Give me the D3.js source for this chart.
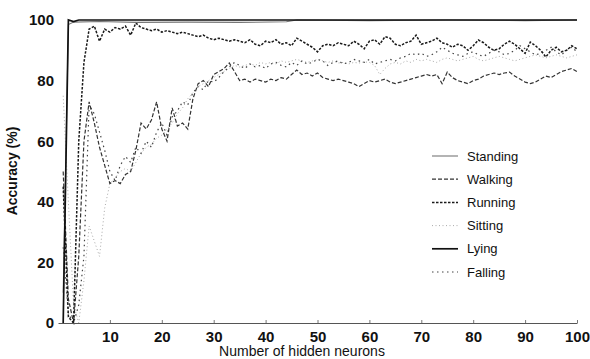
<!DOCTYPE html>
<html>
<head>
<meta charset="utf-8">
<script src="https://cdn.jsdelivr.net/npm/d3@7"></script>
<style>
  body { margin: 0; background: #fff; }
  text { font-family: "Liberation Sans", Arial, sans-serif; fill: #111; }
</style>
</head>
<body>
<svg width="590" height="359"></svg>
<script>
// values (accuracy %, one per hidden neuron count unless an x list is given)
const standingX = [1, 2, 3, 8, 15, 25, 35, 44, 46, 60, 75, 90, 100];
const standing = [10, 98.5, 99.3, 99.5, 99.2, 99.3, 99.2, 99.4, 100, 99.8, 100, 99.8, 100];

const lyingX = [1, 2, 3, 4, 5, 100];
const lying = [0, 100, 99.5, 100, 100, 100];

const walking = [
  50, 8, 0, 22, 60, 73, 66, 58, 52, 46,
  47, 46, 49, 50, 57, 66, 64, 67, 73, 64,
  60, 71, 65, 66, 64, 74, 79, 80, 78, 82,
  83, 84, 85.8, 83, 80, 80.5, 79.5, 80.5, 80, 79.5,
  80.5, 80, 81, 80.5, 82, 83.5, 82, 82.5, 81.5, 82.5,
  81, 80.5, 80, 80.5, 80, 79.5, 79, 78, 79, 80,
  79.5, 80, 80.5, 79.5, 79, 79.5, 80, 80.5, 81, 81.5,
  82, 81.5, 82, 79, 82.8, 81, 80, 79.5, 79, 80,
  80.5, 81.5, 82, 82.5, 82, 82.5, 82.8, 81.5, 80.5, 79.5,
  79, 79.5, 80.5, 81.5, 81, 82, 83, 83.5, 84, 83
];

const running = [
  45, 2, 0, 60, 86, 97, 98, 93, 97, 96,
  97.5, 97, 98, 95, 99, 97.5, 97, 96.5, 97, 96,
  96.5, 96, 95.5, 96, 95.5, 95, 94.5, 95, 94, 93.5,
  94, 93.5, 93, 93.5, 93, 92.5, 93.5, 92, 91.5, 93,
  92.5, 93.5, 92, 92.5, 91.5, 94, 93, 92, 91, 89.5,
  91.5, 92, 91.5, 92.5, 92, 91.5, 93, 92, 90.5, 93,
  93.5, 92, 94.5, 94, 92, 91.5, 92.5, 93, 95, 92,
  92.5, 93, 94, 92.5, 92, 91, 92, 91.5, 90, 91.5,
  93.4, 92.5, 91, 90, 90.5, 92, 93, 92, 90.5, 89,
  92.7, 91.5, 90, 87.8, 90, 91, 89.5, 90, 91.5, 90.5
];

const sitting = [
  75, 40, 6, 0, 14, 32, 27, 22, 38, 46,
  48, 50, 51, 50, 53, 56, 58, 59, 61, 62,
  64, 66, 69, 71, 74, 76, 78, 79, 80, 81,
  82, 83, 84, 85, 84.5, 85, 85.5, 85, 86, 85.5,
  86, 85.5, 86.5, 86, 86.5, 87, 86.5, 86, 86.5, 87,
  86.5, 86, 86.5, 85.8, 86, 85.5, 86, 85.8, 86.2, 86,
  85, 82, 84, 85.5, 86, 85.5, 86.5, 86, 87, 86.5,
  87, 86.5, 86, 87, 87.5, 87, 86.5, 87, 87.5, 88,
  87, 86.5, 87, 87.5, 88, 87.5, 87, 86.5, 87, 87.5,
  88, 88.5, 88, 87.5, 88, 88.5, 88, 87.5, 88, 88.5
];

const falling = [
  25, 3, 0, 6, 22, 72, 69, 63, 57, 50,
  47, 52, 55, 53, 58, 56, 60, 58, 63, 66,
  62, 68, 70, 73, 72, 76, 78, 77, 80, 79.5,
  81, 83, 84.5, 86, 85, 84, 85.5, 84.5, 85, 84,
  85.5, 86, 85, 84.5, 86, 85, 86.5, 85.5, 86, 87,
  86.5, 85, 86, 86.5, 85.5, 86, 87, 86.5, 86, 87,
  85.5, 86, 86.5, 87, 86.5, 87.5, 88, 89, 88.5, 89,
  88, 88.5, 89.5, 91, 90, 89, 88.5, 88, 89, 89.5,
  88.5, 88, 89, 90, 89.5, 88.5, 89, 90, 91.5, 90.5,
  89.5, 88.5, 89, 90, 91, 89.5, 88.5, 90, 91, 89.5
];

const xTicks = [10, 20, 30, 40, 50, 60, 70, 80, 90, 100];
const yTicks = [0, 20, 40, 60, 80, 100];

const svg = d3.select("svg");
const x = d3.scaleLinear().domain([0, 100]).range([58, 577]);
const y = d3.scaleLinear().domain([0, 100]).range([323, 20]);

const byIndex = (vals) => vals.map((v, i) => [i + 1, v]);
const withX = (xs, vals) => vals.map((v, i) => [xs[i], v]);

// drawn bottom first, so the solid lines sit on top
const series = [
  { name: "Sitting", pts: byIndex(sitting), color: "#aaa", width: 1, dash: "1,2.5" },
  { name: "Falling", pts: byIndex(falling), color: "#444", width: 1.2, dash: "1.5,3.5" },
  { name: "Walking", pts: byIndex(walking), color: "#333", width: 1.2, dash: "4,2" },
  { name: "Running", pts: byIndex(running), color: "#1a1a1a", width: 1.5, dash: "2.5,1.5" },
  { name: "Standing", pts: withX(standingX, standing), color: "#777", width: 1.1, dash: null },
  { name: "Lying", pts: withX(lyingX, lying), color: "#111", width: 1.7, dash: null }
];

const line = d3.line().x((d) => x(d[0])).y((d) => y(d[1]));

series.forEach((s) => {
  svg.append("path")
    .attr("d", line(s.pts))
    .attr("fill", "none")
    .attr("stroke", s.color)
    .attr("stroke-width", s.width)
    .attr("stroke-dasharray", s.dash);
});

// x axis: baseline with small inward ticks
const xAxis = svg.append("g").attr("transform", "translate(0,323)")
  .call(d3.axisBottom(x).tickValues(xTicks).tickSize(-3).tickSizeOuter(0).tickPadding(8));
xAxis.select(".domain").attr("stroke", "#555").attr("stroke-width", 1);
xAxis.selectAll(".tick line").attr("stroke", "#777");
xAxis.selectAll("text").attr("font-size", 15).attr("font-weight", "bold").attr("dy", "0.71em");

// y axis: labels only
const yAxis = svg.append("g").attr("transform", "translate(58,0)")
  .call(d3.axisLeft(y).tickValues(yTicks).tickSize(0).tickPadding(4));
yAxis.select(".domain").remove();
yAxis.selectAll("text").attr("font-size", 15).attr("font-weight", "bold");

svg.append("text")
  .attr("x", 302).attr("y", 356)
  .attr("text-anchor", "middle")
  .attr("font-size", 14)
  .text("Number of hidden neurons");

svg.append("text")
  .attr("transform", "translate(17,171) rotate(-90)")
  .attr("text-anchor", "middle")
  .attr("font-size", 14)
  .attr("font-weight", "bold")
  .text("Accuracy (%)");

// legend
const legendOrder = ["Standing", "Walking", "Running", "Sitting", "Lying", "Falling"];
const legendY = d3.scalePoint().domain(legendOrder).range([156, 272]);
legendOrder.forEach((name) => {
  const s = series.find((d) => d.name === name);
  const ly = legendY(name);
  svg.append("line")
    .attr("x1", 432).attr("x2", 458)
    .attr("y1", ly).attr("y2", ly)
    .attr("stroke", s.color)
    .attr("stroke-width", s.width)
    .attr("stroke-dasharray", s.dash);
  svg.append("text")
    .attr("x", 467).attr("y", ly)
    .attr("dy", "0.35em")
    .attr("font-size", 13)
    .text(name);
});
</script>
</body>
</html>
